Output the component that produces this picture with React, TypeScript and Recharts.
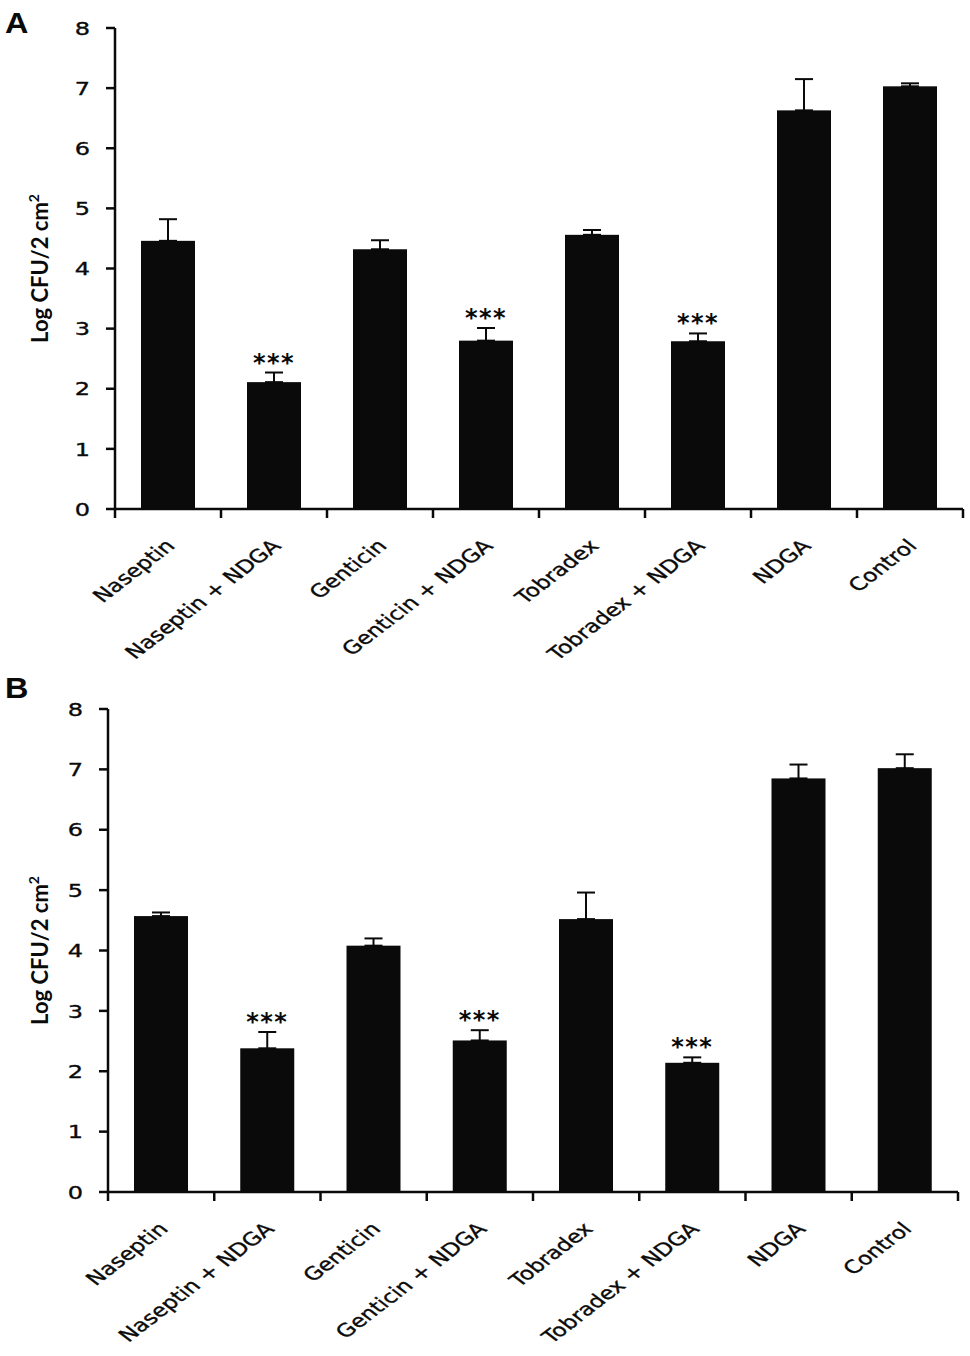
import { BarChart, Bar, XAxis, YAxis, ErrorBar } from "recharts";

// ── Data ────────────────────────────────────────────────────────────────────
const treatments = [
  "Naseptin",
  "Naseptin + NDGA",
  "Genticin",
  "Genticin + NDGA",
  "Tobradex",
  "Tobradex + NDGA",
  "NDGA",
  "Control",
];
const significance = ["", "***", "", "***", "", "***", "", ""];

const meansA = [4.46, 2.11, 4.32, 2.8, 4.56, 2.79, 6.63, 7.03];
const errorsA = [0.36, 0.16, 0.15, 0.21, 0.08, 0.13, 0.52, 0.05];

const meansB = [4.57, 2.38, 4.08, 2.51, 4.52, 2.14, 6.85, 7.02];
const errorsB = [0.06, 0.27, 0.12, 0.17, 0.44, 0.09, 0.23, 0.23];

const yTicks = [0, 1, 2, 3, 4, 5, 6, 7, 8];

const buildRows = (means: number[], errors: number[]) =>
  treatments.map((name, i) => ({
    name,
    mean: means[i],
    err: [0, errors[i]],
    errUp: errors[i],
    sig: significance[i],
  }));

const rowsA = buildRows(meansA, errorsA);
const rowsB = buildRows(meansB, errorsB);

const INK = "#0a0a0a";
const TICK_FONT = "'DejaVu Sans', Verdana, sans-serif";
// the original figure is stretched sideways, so text is widened to match
const STRETCH = 1.3;

// bar + "***" above its error whisker (height/mean gives the y scale)
function StarBar(props: any) {
  const { x, y, width, height, payload } = props;
  const pxPerUnit = payload.mean ? height / payload.mean : 0;
  const errTop = y - payload.errUp * pxPerUnit;
  return (
    <g>
      <rect x={x} y={y} width={width} height={height} fill={INK} />
      {payload.sig && (
        <text
          x={x + width / 2}
          y={errTop - 2}
          textAnchor="middle"
          fontFamily={TICK_FONT}
          fontWeight="bold"
          fontSize={24}
          letterSpacing={1.5}
          fill={INK}
        >
          {payload.sig}
        </text>
      )}
    </g>
  );
}

// tick marks sit on category boundaries, labels are slanted under the bar
function CategoryTick(props: any) {
  const { x, y, payload, index, band, count } = props;
  const left = x - band / 2;
  return (
    <g>
      <line x1={left} y1={y} x2={left} y2={y + 9} stroke={INK} strokeWidth={2.5} />
      {index === count - 1 && (
        <line x1={x + band / 2} y1={y} x2={x + band / 2} y2={y + 9} stroke={INK} strokeWidth={2.5} />
      )}
      <text
        transform={`translate(${x + 8},${y + 38}) scale(${STRETCH},1) rotate(-45)`}
        textAnchor="end"
        fontFamily={TICK_FONT}
        fontSize={18}
        fill={INK}
        stroke={INK}
        strokeWidth={0.35}
      >
        {payload.value}
      </text>
    </g>
  );
}

function ValueTick(props: any) {
  const { x, y, payload } = props;
  return (
    <text
      transform={`translate(${x},${y}) scale(${STRETCH},1)`}
      textAnchor="end"
      dy="0.36em"
      fontFamily={TICK_FONT}
      fontSize={18.5}
      fill={INK}
      stroke={INK}
      strokeWidth={0.35}
    >
      {payload.value}
    </text>
  );
}

function YLabel(props: any) {
  const { viewBox } = props;
  const cy = viewBox.y + viewBox.height / 2;
  return (
    <text
      transform={`translate(48,${cy}) rotate(-90)`}
      textAnchor="middle"
      fontFamily="Lato, 'Liberation Sans', sans-serif"
      fontWeight="bold"
      fontSize={22}
      fill={INK}
    >
      Log CFU/2 cm<tspan fontSize={14} dy={-9}>2</tspan>
    </text>
  );
}

type PanelProps = {
  rows: ReturnType<typeof buildRows>;
  height: number;
  top: number;
  axisWidth: number;
  right: number;
  xAxisHeight: number;
};

function Panel({ rows, height, top, axisWidth, right, xAxisHeight }: PanelProps) {
  const plotWidth = 970 - axisWidth - right;
  const band = plotWidth / rows.length;
  return (
    <BarChart
      width={970}
      height={height}
      data={rows}
      margin={{ top, right, left: 0, bottom: 0 }}
      barSize={54}
    >
      <XAxis
        dataKey="name"
        height={xAxisHeight}
        interval={0}
        axisLine={{ stroke: INK, strokeWidth: 2.5 }}
        tickLine={false}
        tickSize={0}
        tickMargin={0}
        tick={(p: any) => <CategoryTick {...p} band={band} count={rows.length} />}
      />
      <YAxis
        width={axisWidth}
        domain={[0, 8]}
        ticks={yTicks}
        interval={0}
        axisLine={{ stroke: INK, strokeWidth: 2.5 }}
        tickLine={{ stroke: INK, strokeWidth: 2.5 }}
        tickSize={9}
        tickMargin={16}
        tick={<ValueTick />}
        label={<YLabel />}
      />
      <Bar dataKey="mean" fill={INK} shape={<StarBar />} isAnimationActive={false}>
        <ErrorBar dataKey="err" direction="y" width={9} strokeWidth={2} stroke={INK} />
      </Bar>
    </BarChart>
  );
}

const letterStyle = {
  position: "absolute" as const,
  left: 5,
  fontFamily: "'Liberation Sans', Arial, sans-serif",
  fontWeight: "bold" as const,
  fontSize: 30,
  color: INK,
  lineHeight: 1,
  transform: "scaleX(1.08)",
  transformOrigin: "left top",
};

export default function App() {
  return (
    <div style={{ position: "absolute", left: 0, top: 0, width: 970, height: 1356, background: "#fff" }}>
      <div style={{ position: "absolute", left: 0, top: 0 }}>
        <Panel rows={rowsA} height={680} top={28} axisWidth={115} right={7} xAxisHeight={171} />
      </div>
      <div style={{ ...letterStyle, top: 8 }}>A</div>
      <div style={{ position: "absolute", left: 0, top: 680 }}>
        <Panel rows={rowsB} height={676} top={29} axisWidth={108} right={12} xAxisHeight={164} />
      </div>
      <div style={{ ...letterStyle, top: 673 }}>B</div>
    </div>
  );
}
